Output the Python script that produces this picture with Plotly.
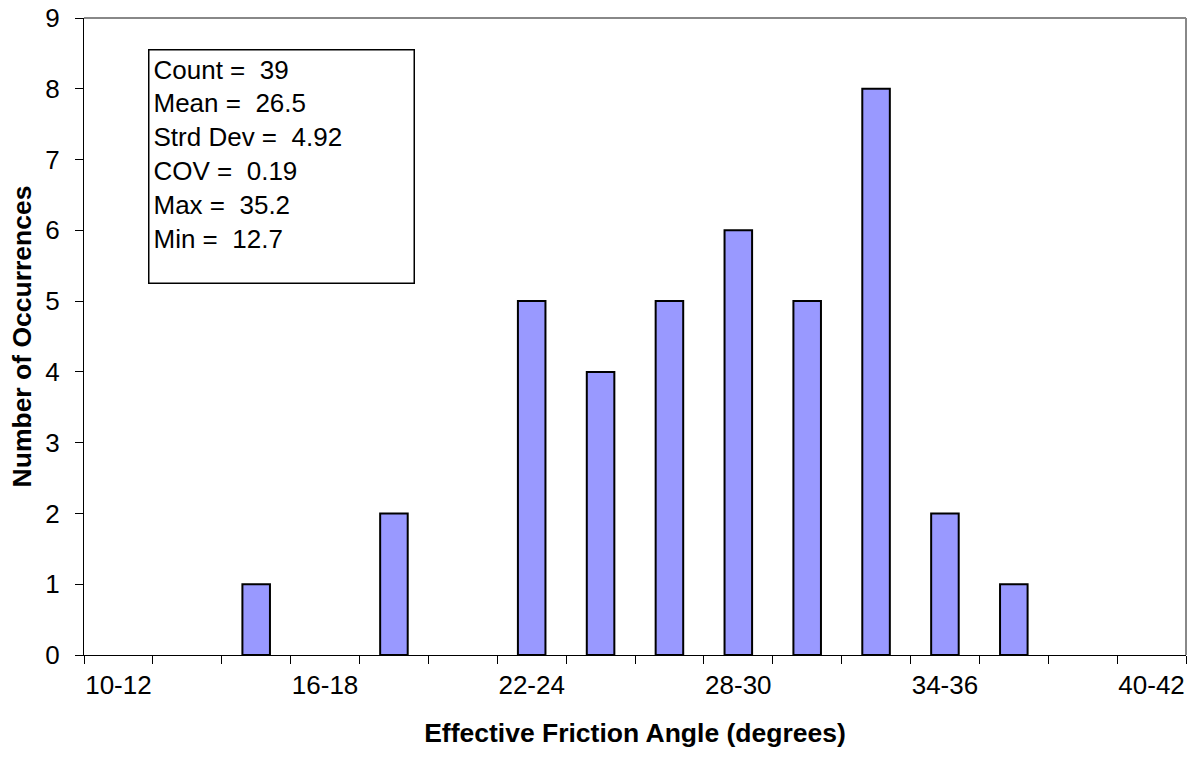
import plotly.graph_objects as go

# friction angle bins (degrees) and number of occurrences in each
angle_bins = ['10-12', '12-14', '14-16', '16-18', '18-20', '20-22', '22-24', '24-26',
              '26-28', '28-30', '30-32', '32-34', '34-36', '36-38', '38-40', '40-42']
occurrences = [0, 0, 1, 0, 2, 0, 5, 4, 5, 6, 5, 8, 2, 1, 0, 0]

# only every third bin gets a label on the axis
shown_labels = [b if i % 3 == 0 else '' for i, b in enumerate(angle_bins)]

stats_lines = ['Count =  39', 'Mean =  26.5', 'Strd Dev =  4.92', 'COV =  0.19',
               'Max =  35.2', 'Min =  12.7']

font_family = 'Liberation Sans, Arial, sans-serif'

fig = go.Figure()
fig.add_trace(go.Bar(x=angle_bins, y=occurrences, width=0.4,
                     marker=dict(color='#9999FF',
                                 line=dict(color='black',
                                           width=[2 if v > 0 else 0 for v in occurrences]))))

fig.update_xaxes(type='category', tickmode='array', tickvals=angle_bins, ticktext=shown_labels,
                 tickson='boundaries', ticks='outside', ticklen=8, tickcolor='black', tickangle=0,
                 showline=True, linecolor='black', linewidth=1, showgrid=False, automargin=False,
                 tickfont=dict(size=26, color='black'), ticklabelstandoff=7,
                 ticklabeloverflow='allow',
                 title=dict(text='<b>Effective Friction Angle (degrees)</b>',
                            font=dict(size=26.5, color='black'), standoff=24))
fig.update_yaxes(range=[0, 9], dtick=1, ticks='outside', ticklen=8, tickcolor='black',
                 showline=True, linecolor='black', linewidth=1, showgrid=False, zeroline=False,
                 automargin=False, tickfont=dict(size=26, color='black'), ticklabelstandoff=10,
                 ticklabeloverflow='allow',
                 title=dict(text='<b>Number of Occurrences</b>',
                            font=dict(size=26.5, color='black'), standoff=6))

# gray frame on top and right of the plot area
fig.add_shape(type='line', xref='x domain', yref='y domain', x0=0, x1=1, y0=1, y1=1,
              line=dict(color='#888888', width=2))
fig.add_shape(type='line', xref='x domain', yref='y domain', x0=1, x1=1, y0=0, y1=1,
              line=dict(color='#888888', width=2))

# statistics box
fig.add_annotation(xref='x domain', yref='y domain', x=0.058, y=0.951,
                   xanchor='left', yanchor='top', showarrow=False,
                   text='<br>'.join(s.replace('  ', ' \u00a0') for s in stats_lines),
                   align='left', valign='top', width=256, height=224,
                   bordercolor='black', borderwidth=1.5, borderpad=4, bgcolor='white',
                   font=dict(size=26, color='black', family=font_family))

fig.update_layout(width=1196, height=759, plot_bgcolor='white', paper_bgcolor='white',
                  font=dict(family=font_family, color='black'),
                  margin=dict(l=84, r=10, t=18, b=104), showlegend=False, bargap=0.6)

# drop the default 8px page margin so the figure fills the window
fig.write_html('out.html', config={'displayModeBar': False},
               post_script="document.body.style.margin = '0';")
